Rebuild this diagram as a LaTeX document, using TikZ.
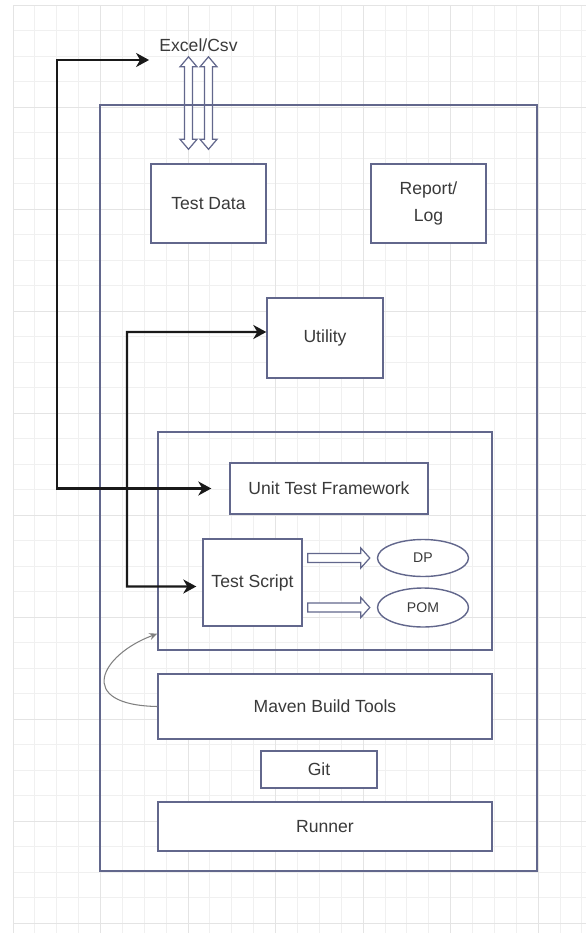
\documentclass[tikz,border=0pt]{standalone}
\usepackage{fontspec}
\setmainfont{Liberation Sans}
\usetikzlibrary{arrows.meta,calc,shapes.geometric}

\definecolor{boxc}{RGB}{98,103,140}
\definecolor{txt}{RGB}{58,58,58}
\definecolor{gridminor}{RGB}{240,240,240}
\definecolor{gridmajor}{RGB}{228,228,228}

\tikzset{
  box/.style={draw=boxc, line width=0.8pt, fill=white, text=txt, align=center, inner sep=0pt, font=\fontsize{10}{15}\selectfont},
  frame/.style={draw=boxc, line width=0.8pt, inner sep=0pt},
  oval/.style={box, ellipse, font=\fontsize{8}{10}\selectfont},
  link/.style={line width=1.4pt, black!90, {Stealth[length=0.26cm,width=0.28cm,inset=0.08cm]}-{Stealth[length=0.26cm,width=0.28cm,inset=0.08cm]}},
  loopback/.style={gray, line width=0.6pt, -{Stealth[length=0.16cm,width=0.14cm]}},
  hollow/.style={draw=boxc, line width=0.7pt, fill=white},
  sz/.style 2 args={minimum width=#1*0.02cm, minimum height=#2*0.02cm},
}

\begin{document}
\begin{tikzpicture}[x=0.02cm, y=-0.02cm]
	\useasboundingbox (0,0) rectangle (586,933);
	\foreach \i in {0,...,26}
		\draw[gridminor, line width=0.5pt] (13+\i*21.88,5) -- (13+\i*21.88,933);
	\foreach \j in {0,...,36}
		\draw[gridminor, line width=0.5pt] (13,5+\j*25.5) -- (586,5+\j*25.5);
	\foreach \i in {0,4,...,24}
		\draw[gridmajor, line width=0.5pt] (13+\i*21.88,5) -- (13+\i*21.88,933);
	\foreach \j in {0,4,...,36}
		\draw[gridmajor, line width=0.5pt] (13,5+\j*25.5) -- (586,5+\j*25.5);

	\node[text=txt, inner sep=0pt, font=\fontsize{10}{12}\selectfont] (excel) at (198.5,45) {Excel/Csv};
	\node[box, sz={115}{79}] (testdata) at (208.5,203.5) {Test Data};
	\foreach \s in {-0.2cm,0.2cm}
		\draw[hollow] let \p1=([shift={(\s,-0.1cm)}]excel.south), \p2=([yshift=0.28cm]testdata.north) in
			(\x1,\y1) -- (\x1+0.17cm,\y1-0.2cm) -- (\x1+0.08cm,\y1-0.2cm) -- (\x1+0.08cm,\y2+0.2cm)
			-- (\x1+0.17cm,\y2+0.2cm) -- (\x1,\y2) -- (\x1-0.17cm,\y2+0.2cm) -- (\x1-0.08cm,\y2+0.2cm)
			-- (\x1-0.08cm,\y1-0.2cm) -- (\x1-0.17cm,\y1-0.2cm) -- cycle;
	\node[frame, sz={437}{766}] (app) at (318.5,488) {};

	\node[box, sz={115}{79}] (report) at (428.5,203.5) {Report/\\Log};
	\node[box, sz={116}{80}] (utility) at (325,338) {Utility};
	\node[frame, sz={334}{218}] (engine) at (325,541) {};
	\node[box, sz={198}{51}] (utf) at (329,488.5) {Unit Test Framework};
	\node[box, sz={99}{87}] (script) at (252.5,582.5) {Test Script};
	\node[oval, sz={91}{37}] (dp) at (423,558) {DP};
	\node[oval, sz={91}{39}] (pom) at (423,607.5) {POM};
	\foreach \o in {dp,pom}
		\draw[hollow] let \p1=([xshift=0.1cm]script.east |- \o.west), \p2=([xshift=-0.14cm]\o.west) in
			(\x1,\y1-0.09cm) -- (\x2-0.18cm,\y1-0.09cm) -- (\x2-0.18cm,\y1-0.2cm) -- (\x2,\y1)
			-- (\x2-0.18cm,\y1+0.2cm) -- (\x2-0.18cm,\y1+0.09cm) -- (\x1,\y1+0.09cm) -- cycle;
	\node[box, sz={334}{65}] (maven) at (325,706.5) {Maven Build Tools};
	\node[box, sz={116}{37}] (git) at (319,769.5) {Git};
	\node[box, sz={334}{49}] (runner) at (325,826.5) {Runner};

	\draw[link, shorten <=0.36cm] (utf.west) -| (57,60) -- ([shift={(-10,15)}]excel.west);
	\draw[link, shorten <=0.12cm] ([yshift=-0.08cm]script.west) -| (127,332) -- ([yshift=0.12cm]utility.west);
	\draw[loopback] (maven.west) .. controls (75,705) and (100,655) .. ([yshift=0.34cm]engine.south west);
\end{tikzpicture}
\end{document}
